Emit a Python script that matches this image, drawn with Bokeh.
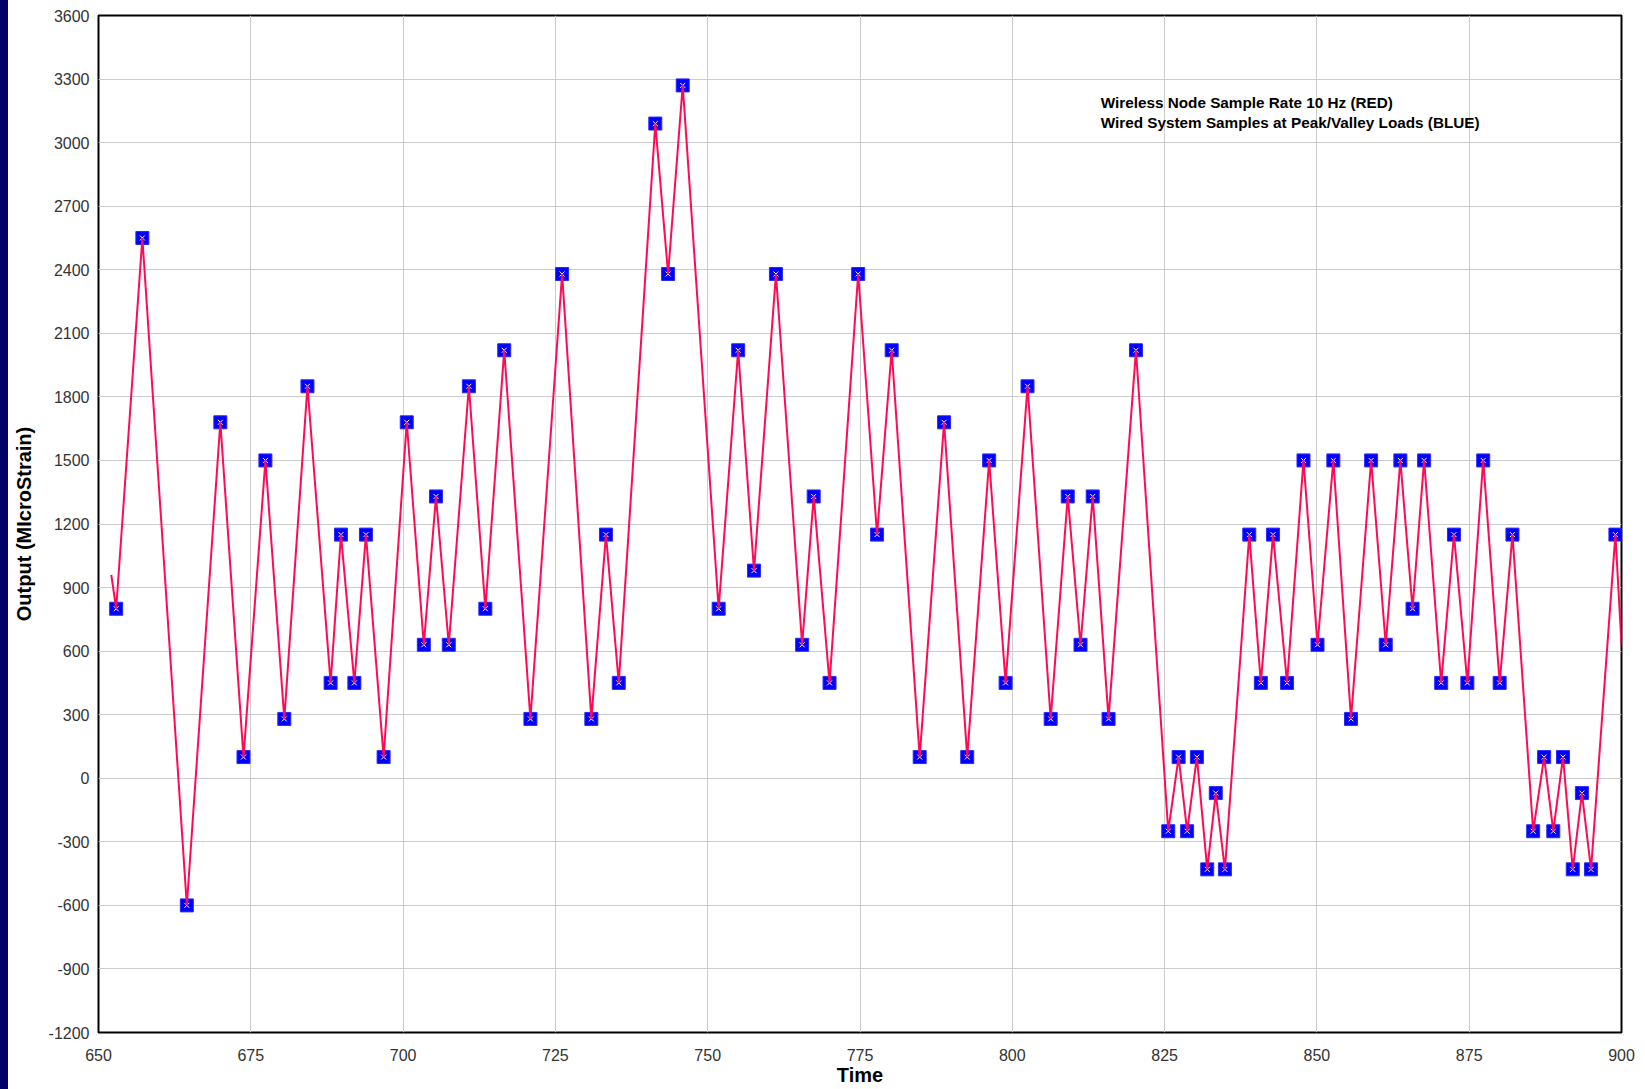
from bokeh.plotting import figure
from bokeh.models import ColumnDataSource, Range1d, FixedTicker, Label, Div
from bokeh.layouts import row
from bokeh.embed import file_html
from bokeh.resources import INLINE

# Wired system samples at peak/valley loads (BLUE)
peak_time = [652.9, 657.2, 664.5, 670.0, 673.8, 677.4, 680.5, 684.3, 688.1, 689.8,
             692.0, 693.9, 696.8, 700.6, 703.4, 705.4, 707.5, 710.8, 713.5, 716.6,
             720.9, 726.1, 730.9, 733.3, 735.4, 741.4, 743.5, 745.9, 751.8, 755.0,
             757.6, 761.2, 765.5, 767.4, 770.0, 774.7, 777.8, 780.2, 784.8, 788.8,
             792.6, 796.2, 798.9, 802.5, 806.3, 809.1, 811.2, 813.2, 815.8, 820.3,
             825.6, 827.3, 828.7, 830.3, 832.0, 833.4, 834.9, 838.9, 840.8, 842.8,
             845.1, 847.8, 850.1, 852.7, 855.6, 858.9, 861.3, 863.7, 865.7, 867.6,
             870.4, 872.5, 874.7, 877.3, 880.0, 882.1, 885.5, 887.3, 888.8, 890.4,
             892.0, 893.5, 895.0, 899.0]
peak_value = [800, 2550, -600, 1680, 100, 1500, 280, 1850, 450, 1150,
              450, 1150, 100, 1680, 630, 1330, 630, 1850, 800, 2020,
              280, 2380, 280, 1150, 450, 3090, 2380, 3270, 800, 2020,
              980, 2380, 630, 1330, 450, 2380, 1150, 2020, 100, 1680,
              100, 1500, 450, 1850, 280, 1330, 630, 1330, 280, 2020,
              -250, 100, -250, 100, -430, -70, -430, 1150, 450, 1150,
              450, 1500, 630, 1500, 280, 1500, 630, 1500, 800, 1500,
              450, 1150, 450, 1500, 450, 1150, -250, 100, -250, 100,
              -430, -70, -430, 1150]

# Wireless node trace (RED): start and end of the trace plus its turning points
red_time = [652.1] + peak_time + [900.0]
red_value = [960] + peak_value + [630]

x_ticks = [650, 675, 700, 725, 750, 775, 800, 825, 850, 875, 900]
y_ticks = [-1200, -900, -600, -300, 0, 300, 600, 900, 1200, 1500, 1800,
           2100, 2400, 2700, 3000, 3300, 3600]

legend_lines = ["Wireless Node Sample Rate 10 Hz (RED)",
                "Wired System Samples at Peak/Valley Loads (BLUE)"]

p = figure(width=1637, height=1089, output_backend="svg", toolbar_location=None,
           x_range=Range1d(650, 900), y_range=Range1d(-1200, 3600),
           min_border_left=90, min_border_right=24, min_border_top=15,
           min_border_bottom=57, margin=0)

p.background_fill_color = "white"
p.border_fill_color = "white"
p.outline_line_color = "black"
p.outline_line_width = 2

p.xaxis.ticker = FixedTicker(ticks=x_ticks)
p.yaxis.ticker = FixedTicker(ticks=y_ticks)
p.xaxis.major_label_overrides = {t: str(t) for t in x_ticks}
p.yaxis.major_label_overrides = {t: str(t) for t in y_ticks}
for ax in (p.xaxis[0], p.yaxis[0]):
    ax.axis_line_color = None
    ax.major_tick_line_color = None
    ax.minor_tick_line_color = None
    ax.major_tick_out = 0
    ax.major_tick_in = 0
    ax.major_label_text_font = "Liberation Sans"
    ax.major_label_text_font_size = "16px"
    ax.major_label_text_color = "#333333"
    ax.axis_label_text_font = "Liberation Sans"
    ax.axis_label_text_font_style = "bold"
    ax.axis_label_text_font_size = "20px"
    ax.axis_label_text_color = "black"

p.xaxis.axis_label = "Time"
p.yaxis.axis_label = "Output (MIcroStrain)"
p.xaxis.major_label_standoff = 16
p.xaxis.axis_label_standoff = 0
p.xaxis.axis_label_text_line_height = 0.8
p.xaxis.major_label_text_line_height = 0.8
p.yaxis.major_label_standoff = 9
p.yaxis.axis_label_standoff = 11

p.grid.grid_line_color = "#cccccc"
p.grid.grid_line_width = 1

src_peak = ColumnDataSource(dict(t=peak_time, v=peak_value))
src_red = ColumnDataSource(dict(t=red_time, v=red_value))

p.scatter("t", "v", source=src_peak, marker="square", size=13,
          fill_color="#0000ff", line_color="#2a2aff", line_width=1)
p.scatter("t", "v", source=src_peak, marker="x", size=7,
          line_color="white", line_width=1)
p.line("t", "v", source=src_red, line_color="#ff0a55", line_width=2)

for i, txt in enumerate(legend_lines):
    p.add_layout(Label(x=814.5, y=3190 - i * 94, text=txt,
                       text_font="Liberation Sans", text_font_style="bold",
                       text_font_size="15.3px", text_color="black",
                       text_baseline="middle", text_align="left"))

band = Div(width=8, height=1089, margin=0,
           styles={"background-color": "#000066"})
layout = row(band, p, spacing=0, margin=0)

open("out.html", "w").write(file_html(layout, INLINE))
